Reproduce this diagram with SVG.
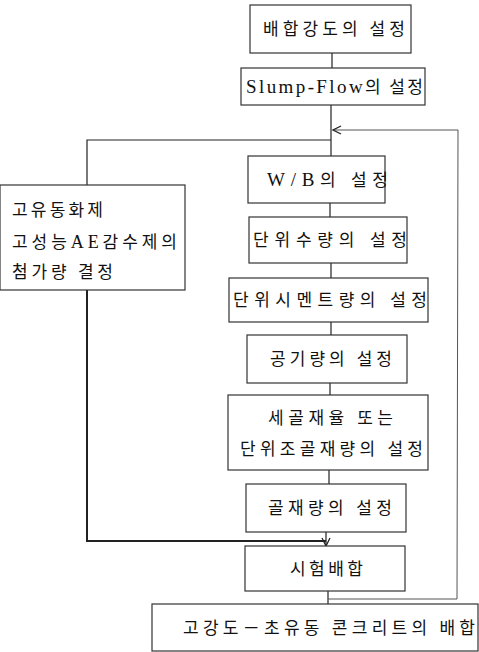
<svg xmlns="http://www.w3.org/2000/svg" width="479" height="652" viewBox="0 0 479 652">
<defs>
<style>
.box{fill:#fff;stroke:#333;stroke-width:1.2}
.t{font-family:"Noto Sans CJK KR","Liberation Serif",serif;font-size:17px;fill:#111}
.l{font-family:"Liberation Serif","Noto Sans CJK KR",serif}
.c{fill:none;stroke:#222;stroke-width:1.2}
.thick{stroke-width:2}
.loop{stroke:#555;stroke-width:1}
</style>
<marker id="ah" markerWidth="10" markerHeight="10" refX="9" refY="5" orient="auto" markerUnits="userSpaceOnUse">
<path d="M1,1 L9,5 L1,9" fill="none" stroke="#222" stroke-width="1.3"/>
</marker>
</defs>
<rect width="479" height="652" fill="#fff"/>
<g id="connectors">
<line class="c" x1="332" y1="53" x2="332" y2="68"/>
<line class="c" x1="331" y1="105" x2="331" y2="156"/>
<polyline class="c" points="331,140 87,140 87,185"/>
<line class="c" x1="330" y1="203" x2="330" y2="217"/>
<line class="c" x1="331" y1="263" x2="331" y2="278"/>
<line class="c" x1="331" y1="322" x2="331" y2="335"/>
<line class="c" x1="330" y1="383" x2="330" y2="395"/>
<line class="c" x1="329" y1="470" x2="329" y2="484"/>
<line class="c" x1="326" y1="532" x2="326" y2="546" marker-end="url(#ah)"/>
<polyline class="c thick" points="87,290 87,541 326,541"/>
<line class="c" x1="328" y1="591" x2="328" y2="604"/>
<polyline class="c loop" points="328,599 457,599 458,130 333,130" marker-end="url(#ah)"/>
</g>
<g id="n1"><rect class="box" x="250" y="5" width="161" height="48"/><text class="t" x="263" y="35" textLength="142" lengthAdjust="spacing">배합강도의 설정</text></g>
<g id="n2"><rect class="box" x="241" y="68" width="184" height="37"/><text class="t" x="246" y="93" textLength="177" lengthAdjust="spacing"><tspan class="l" font-size="19">Slump-Flow</tspan>의 설정</text></g>
<g id="n3"><rect class="box" x="0" y="185" width="185" height="105"/>
<text class="t" x="12" y="216" textLength="91" lengthAdjust="spacing">고유동화제</text>
<text class="t" x="12" y="248" textLength="165" lengthAdjust="spacing">고성능<tspan class="l" font-size="18">AE</tspan>감수제의</text>
<text class="t" x="12" y="278" textLength="101" lengthAdjust="spacing">첨가량 결정</text></g>
<g id="n4"><rect class="box" x="248" y="156" width="137" height="47"/><text class="t" x="267" y="186" textLength="121" lengthAdjust="spacing"><tspan class="l" font-size="19">W/B</tspan>의 설정</text></g>
<g id="n5"><rect class="box" x="249" y="217" width="158" height="46"/><text class="t" x="253" y="246" textLength="154" lengthAdjust="spacing">단위수량의 설정</text></g>
<g id="n6"><rect class="box" x="229" y="278" width="199" height="44"/><text class="t" x="233" y="306" textLength="194" lengthAdjust="spacing">단위시멘트량의 설정</text></g>
<g id="n7"><rect class="box" x="247" y="335" width="160" height="48"/><text class="t" x="270" y="365" textLength="122" lengthAdjust="spacing">공기량의 설정</text></g>
<g id="n8"><rect class="box" x="228" y="395" width="200" height="75"/>
<text class="t" x="268" y="424" textLength="125" lengthAdjust="spacing">세골재율 또는</text>
<text class="t" x="240" y="455" textLength="183" lengthAdjust="spacing">단위조골재량의 설정</text></g>
<g id="n9"><rect class="box" x="246" y="484" width="160" height="48"/><text class="t" x="268" y="514" textLength="124" lengthAdjust="spacing">골재량의 설정</text></g>
<g id="n10"><rect class="box" x="245" y="546" width="160" height="45"/><text class="t" x="290" y="575" textLength="73" lengthAdjust="spacing">시험배합</text></g>
<g id="n11"><rect class="box" x="152" y="604" width="326" height="47"/><text class="t" x="183" y="634" textLength="292" lengthAdjust="spacing">고강도－초유동 콘크리트의 배합</text></g>
</svg>
